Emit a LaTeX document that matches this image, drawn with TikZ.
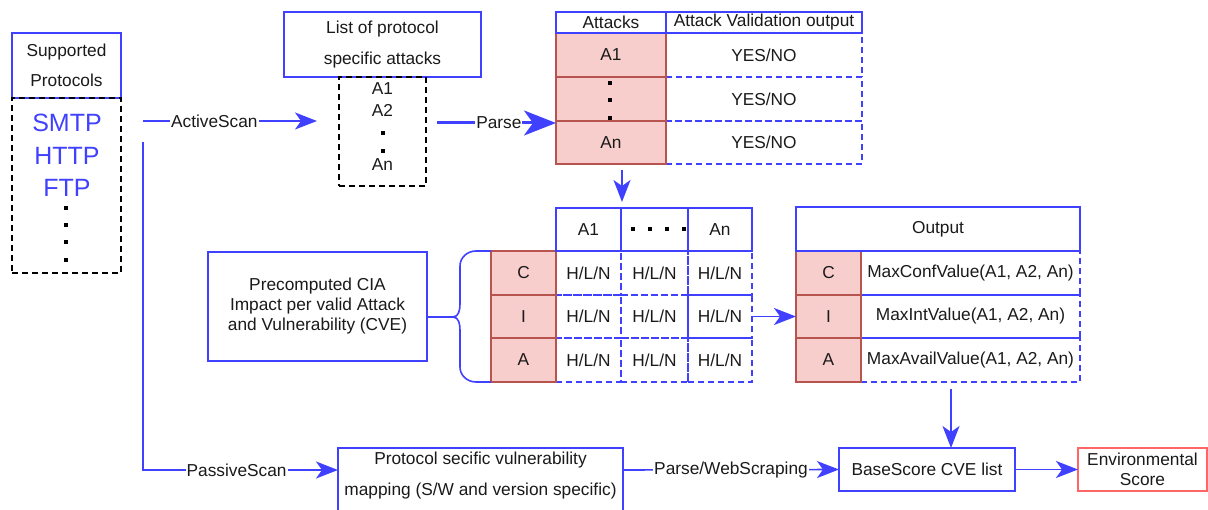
\documentclass[tikz,border=0pt]{standalone}
\usepackage{fontspec}
\setmainfont{Liberation Sans}
\usetikzlibrary{arrows.meta}
\definecolor{bl}{RGB}{64,64,255}
\definecolor{pinkf}{HTML}{F8CECC}
\definecolor{pinkd}{HTML}{B85450}
\definecolor{envr}{HTML}{FF6666}
\definecolor{txt}{HTML}{1A1A1A}
\newcommand{\mkcell}[7]{\node[#1, minimum width={(#5-#3)*1pt}, minimum height={(#6-#4)*1pt}] (#2) at ({(#3+#5)/2},{(#4+#6)/2}) {#7};}
\begin{document}
\begin{tikzpicture}[x=1pt,y=-1pt,
 every node/.style={font=\fontsize{17.3}{20}\selectfont, text=txt, inner sep=0pt, outer sep=0pt},
 bbox/.style={draw=bl, line width=1.6pt, fill=white},
 dbox/.style={draw=bl, line width=1.6pt, dash pattern=on 6pt off 4pt},
 kbox/.style={draw=black, line width=1.8pt, dash pattern=on 6pt off 4pt},
 pbox/.style={draw=pinkd, fill=pinkf, line width=1.6pt},
 ebox/.style={draw=envr, line width=1.6pt},
 arr/.style={draw=bl, line width=1.6pt, -{Stealth[length=22pt,width=17pt,inset=6pt]}},
 barr/.style={draw=bl, line width=3pt, -{Stealth[length=32pt,width=25pt,inset=9pt]}},
 lbl/.style={fill=white, inner sep=1pt},
 sq/.style={fill=black, minimum size=4pt, inner sep=0pt}]
\useasboundingbox (0,0) rectangle (1208,510);

% Supported protocols
\mkcell{bbox,align=center,font=\fontsize{17.3}{30}\selectfont}{sp}{12}{33}{121}{98}{Supported\\Protocols}
\mkcell{kbox}{spl}{12}{98}{121}{273}{}
\node[text=bl, align=center, font=\fontsize{25}{32.5}\selectfont] (prot) at (67,155.5) {SMTP\\HTTP\\FTP};
\foreach \yy in {208,225,242,260} \node[sq] at (66,\yy) {};

% list of attacks
\mkcell{bbox,align=center,font=\fontsize{17.3}{31}\selectfont}{lp}{284}{12}{481}{77}{List of protocol\\specific attacks}
\mkcell{kbox}{ll}{339}{77}{426}{186}{}
\node (la1) at (382.5,89) {A1};
\node (la2) at (382.5,110) {A2};
\node[sq] at (382.5,133) {};
\node[sq] at (382.5,151) {};
\node (lan) at (382.5,165) {An};

% attacks table
\mkcell{dbox}{v1}{666}{33}{862}{77}{YES/NO}
\mkcell{dbox}{v2}{666}{77}{862}{121}{YES/NO}
\mkcell{dbox}{v3}{666}{121}{862}{164}{YES/NO}
\mkcell{pbox}{a1}{556}{33}{666}{77}{A1}
\mkcell{pbox}{a2}{556}{77}{666}{121}{}
\mkcell{pbox}{a3}{556}{121}{666}{164}{An}
\foreach \yy in {83,100,118} \node[sq] at (610,\yy) {};
\mkcell{bbox}{ha}{556}{12}{666}{33}{Attacks}
\mkcell{bbox}{hv}{666}{12}{862}{33}{Attack Validation output}

% middle CIA table
\foreach \xa/\xb/\cc in {556/621/1,621/688/2,688/752/3}{
  \foreach \ya/\yb/\rr in {251/295/1,295/338/2,338/382/3}{
    \mkcell{dbox}{h\rr\cc}{\xa}{\ya}{\xb}{\yb}{H/L/N}
  }
}
\mkcell{pbox}{mc}{491}{251}{556}{295}{C}
\mkcell{pbox}{mi}{491}{295}{556}{338}{I}
\mkcell{pbox}{ma}{491}{338}{556}{382}{A}
\mkcell{bbox}{m1}{556}{208}{621}{251}{A1}
\mkcell{bbox}{m2}{621}{208}{688}{251}{}
\mkcell{bbox}{m3}{688}{208}{752}{251}{An}
\foreach \xx in {633,650,667,684} \node[sq] at (\xx,229) {};

% precomputed box and brace
\mkcell{bbox,align=center}{pre}{208}{252}{427}{361}{Precomputed CIA\\Impact per valid Attack\\and Vulnerability (CVE)}
\coordinate (bt) at (453,317);
\draw[bl, line width=1.6pt] (pre.east |- bt) -- (bt);
\draw[bl, line width=1.6pt] (mc.north west) -- (476,251) to[out=180,in=90] (460,266) -- (460,304) to[out=-90,in=0] (bt) to[out=0,in=90] (460,330) -- (460,367) to[out=-90,in=180] (476,382) -- (ma.south west);

% output table
\mkcell{dbox}{o1}{861}{251}{1080}{295}{MaxConfValue(A1, A2, An)}
\mkcell{dbox}{o2}{861}{295}{1080}{338}{MaxIntValue(A1, A2, An)}
\mkcell{dbox}{o3}{861}{338}{1080}{382}{MaxAvailValue(A1, A2, An)}
\mkcell{pbox}{oc}{796}{251}{861}{295}{C}
\mkcell{pbox}{oi}{796}{295}{861}{338}{I}
\mkcell{pbox}{oa}{796}{338}{861}{382}{A}
\mkcell{bbox}{oh}{796}{207}{1080}{251}{Output}

% bottom row
\mkcell{bbox}{pv}{338}{448}{623}{516}{}
\node[align=center, font=\fontsize{17.3}{31}\selectfont] (pvt) at (480.5,475.5) {Protocol secific vulnerability\\mapping (S/W and version specific)};
\mkcell{bbox}{base}{839}{448}{1015}{491}{BaseScore CVE list}
\mkcell{ebox,align=center}{env}{1078}{448}{1207}{491}{Environmental\\Score}

% connectors
\coordinate (as1) at (143,121);
\coordinate (as2) at (317,121);
\draw[arr] (as1) -- node[lbl, pos=0.41] {ActiveScan} (as2);
\coordinate (ps1) at (143,142);
\coordinate (pin) at (338,470);
\draw[arr] (ps1) |- node[lbl, pos=0.74] {PassiveScan} (pin);
\coordinate (pa1) at (437,123);
\draw[barr] (pa1) -- node[lbl, pos=0.52] {Parse} (pa1 -| a3.west);
\coordinate (dn1) at (622,170);
\coordinate (dn2) at (622,202);
\draw[arr] (dn1) -- (dn2);
\draw[arr] (h23.east) -- (oi.west);
\coordinate (dn3) at (951,389);
\draw[arr] (dn3) -- (dn3 |- base.north);
\draw[arr] (pin -| pv.east) -- node[lbl, pos=0.5] {Parse/WebScraping} (base.west);
\draw[arr] (base.east) -- (env.west);
\end{tikzpicture}
\end{document}
